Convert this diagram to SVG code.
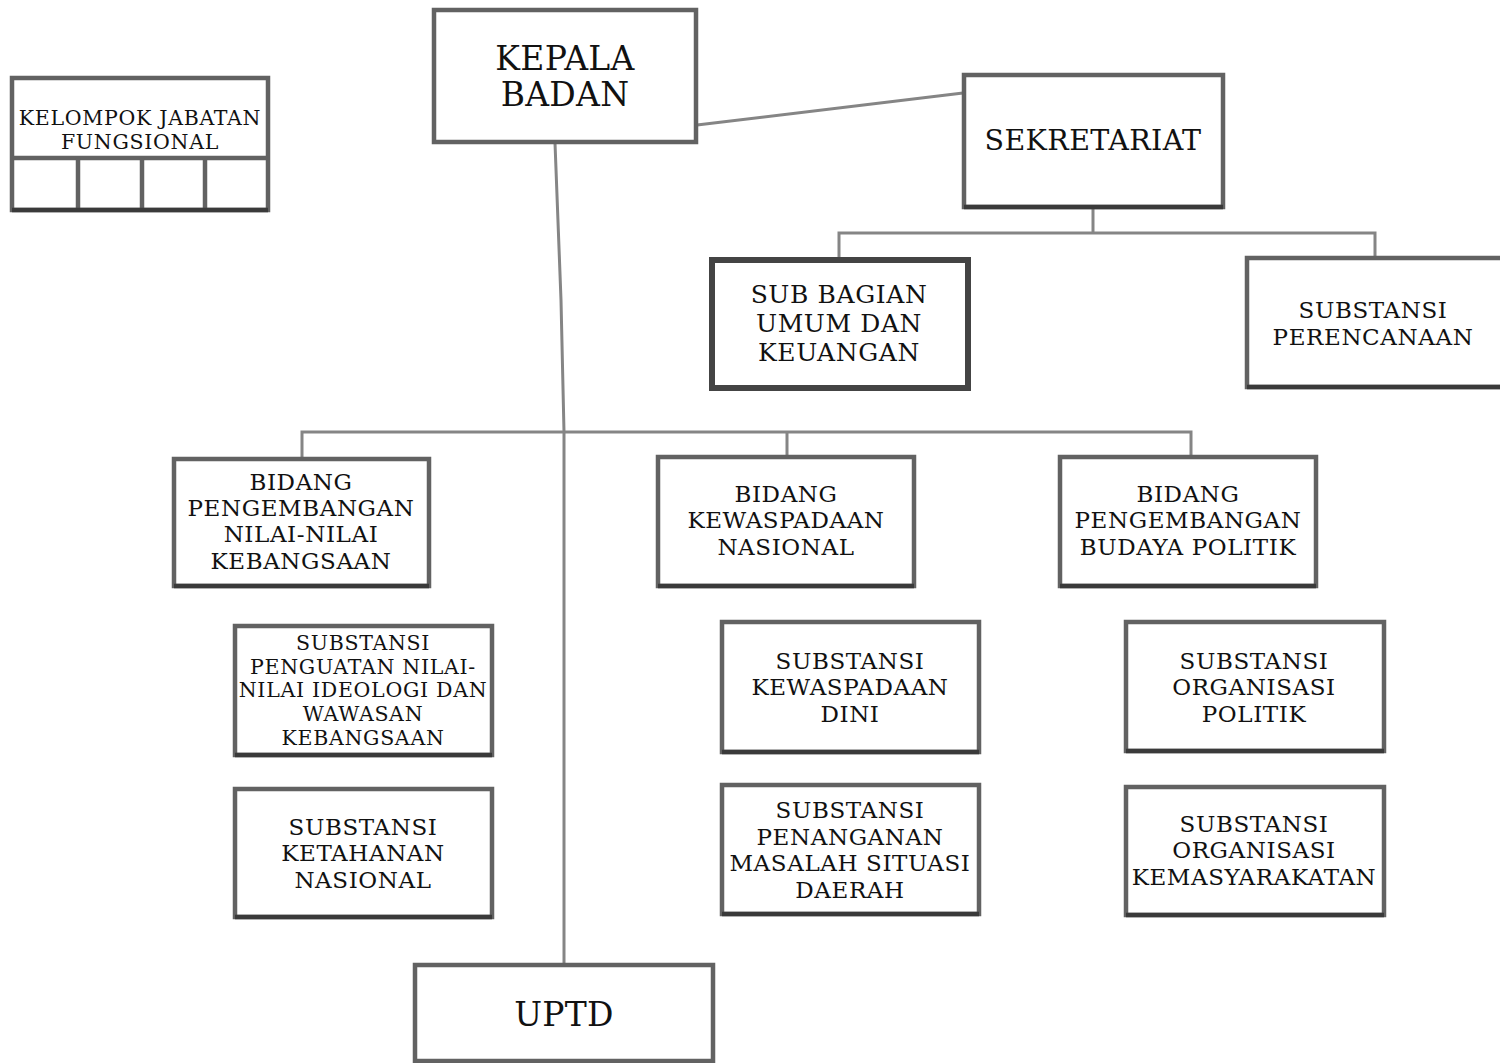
<svg xmlns="http://www.w3.org/2000/svg" width="1500" height="1063" viewBox="0 0 1500 1063">
<style>
.box{fill:#fff;stroke:#626262;stroke-width:4.5}
.bot{stroke:#3a3a3a;stroke-width:4.5}
.thick{fill:#fff;stroke:#444;stroke-width:6}
.con{fill:none;stroke:#858585;stroke-width:3}
text{font-family:"DejaVu Serif","Liberation Serif",serif;fill:#111;text-anchor:middle}
.t34{font-size:33px;letter-spacing:0.3px}
.t28{font-size:28.5px;letter-spacing:0.4px}
.t24{font-size:25px;letter-spacing:0.6px}
.t22{font-size:23px;letter-spacing:0.6px}
.t20{font-size:20.5px;letter-spacing:0.7px}
</style>
<rect width="1500" height="1063" fill="#fff"/>
<g id="connectors">
<line class="con" x1="697" y1="125" x2="963" y2="93"/>
<polyline class="con" points="555,143 561,300 564,432 564,965"/>
<polyline class="con" points="1093,208 1093,233"/>
<polyline class="con" points="839,260 839,233 1375,233 1375,258"/>
<polyline class="con" points="302,457 302,432 1191,432 1191,455"/>
<line class="con" x1="787" y1="432" x2="787" y2="455"/>
</g>
<g id="kelompok">
<rect class="box" x="12" y="78" width="256" height="132"/>
<line class="box" x1="12" y1="158" x2="268" y2="158"/>
<line class="box" x1="78" y1="158" x2="78" y2="210"/>
<line class="box" x1="142" y1="158" x2="142" y2="210"/>
<line class="box" x1="205" y1="158" x2="205" y2="210"/>
<line class="bot" x1="12" y1="210" x2="268" y2="210"/>
<text class="t20" x="140" y="125">KELOMPOK JABATAN</text>
<text class="t20" x="140" y="149">FUNGSIONAL</text>
</g>
<g id="kepala">
<rect class="box" x="434" y="10" width="262" height="132"/>
<text class="t34" x="565" y="70">KEPALA</text>
<text class="t34" x="565" y="106">BADAN</text>
</g>
<g id="sekretariat">
<rect class="box" x="964" y="75" width="259" height="132"/>
<line class="bot" x1="964" y1="207" x2="1223" y2="207"/>
<text class="t28" x="1093" y="150">SEKRETARIAT</text>
</g>
<g id="subbagian">
<rect class="thick" x="712" y="260" width="256" height="128"/>
<text class="t24" x="839" y="303">SUB BAGIAN</text>
<text class="t24" x="839" y="332">UMUM DAN</text>
<text class="t24" x="839" y="361">KEUANGAN</text>
</g>
<g id="perencanaan">
<rect class="box" x="1247" y="258" width="256" height="129"/>
<line class="bot" x1="1247" y1="387" x2="1500" y2="387"/>
<text class="t22" x="1373" y="318">SUBSTANSI</text>
<text class="t22" x="1373" y="345">PERENCANAAN</text>
</g>
<g id="bidang1">
<rect class="box" x="174" y="459" width="255" height="127"/>
<line class="bot" x1="174" y1="586" x2="429" y2="586"/>
<text class="t22" x="301" y="490">BIDANG</text>
<text class="t22" x="301" y="516">PENGEMBANGAN</text>
<text class="t22" x="301" y="542">NILAI-NILAI</text>
<text class="t22" x="301" y="569">KEBANGSAAN</text>
</g>
<g id="bidang2">
<rect class="box" x="658" y="457" width="256" height="129"/>
<line class="bot" x1="658" y1="586" x2="914" y2="586"/>
<text class="t22" x="786" y="502">BIDANG</text>
<text class="t22" x="786" y="528">KEWASPADAAN</text>
<text class="t22" x="786" y="555">NASIONAL</text>
</g>
<g id="bidang3">
<rect class="box" x="1060" y="457" width="256" height="129"/>
<line class="bot" x1="1060" y1="586" x2="1316" y2="586"/>
<text class="t22" x="1188" y="502">BIDANG</text>
<text class="t22" x="1188" y="528">PENGEMBANGAN</text>
<text class="t22" x="1188" y="555">BUDAYA POLITIK</text>
</g>
<g id="substansi-penguatan">
<rect class="box" x="235" y="626" width="257" height="129"/>
<line class="bot" x1="235" y1="755" x2="492" y2="755"/>
<text class="t20" x="363" y="650">SUBSTANSI</text>
<text class="t20" x="363" y="674">PENGUATAN NILAI-</text>
<text class="t20" x="363" y="697">NILAI IDEOLOGI DAN</text>
<text class="t20" x="363" y="721">WAWASAN</text>
<text class="t20" x="363" y="745">KEBANGSAAN</text>
</g>
<g id="substansi-ketahanan">
<rect class="box" x="235" y="789" width="257" height="128"/>
<line class="bot" x1="235" y1="917" x2="492" y2="917"/>
<text class="t22" x="363" y="835">SUBSTANSI</text>
<text class="t22" x="363" y="861">KETAHANAN</text>
<text class="t22" x="363" y="888">NASIONAL</text>
</g>
<g id="substansi-dini">
<rect class="box" x="722" y="622" width="257" height="130"/>
<line class="bot" x1="722" y1="752" x2="979" y2="752"/>
<text class="t22" x="850" y="669">SUBSTANSI</text>
<text class="t22" x="850" y="695">KEWASPADAAN</text>
<text class="t22" x="850" y="722">DINI</text>
</g>
<g id="substansi-penanganan">
<rect class="box" x="722" y="785" width="257" height="129"/>
<line class="bot" x1="722" y1="914" x2="979" y2="914"/>
<text class="t22" x="850" y="818">SUBSTANSI</text>
<text class="t22" x="850" y="845">PENANGANAN</text>
<text class="t22" x="850" y="871">MASALAH SITUASI</text>
<text class="t22" x="850" y="898">DAERAH</text>
</g>
<g id="substansi-politik">
<rect class="box" x="1126" y="622" width="258" height="129"/>
<line class="bot" x1="1126" y1="751" x2="1384" y2="751"/>
<text class="t22" x="1254" y="669">SUBSTANSI</text>
<text class="t22" x="1254" y="695">ORGANISASI</text>
<text class="t22" x="1254" y="722">POLITIK</text>
</g>
<g id="substansi-kemasyarakatan">
<rect class="box" x="1126" y="787" width="258" height="128"/>
<line class="bot" x1="1126" y1="915" x2="1384" y2="915"/>
<text class="t22" x="1254" y="832">SUBSTANSI</text>
<text class="t22" x="1254" y="858">ORGANISASI</text>
<text class="t22" x="1254" y="885">KEMASYARAKATAN</text>
</g>
<g id="uptd">
<rect class="box" x="415" y="965" width="298" height="96"/>
<text class="t34" x="564" y="1026">UPTD</text>
</g>
</svg>
